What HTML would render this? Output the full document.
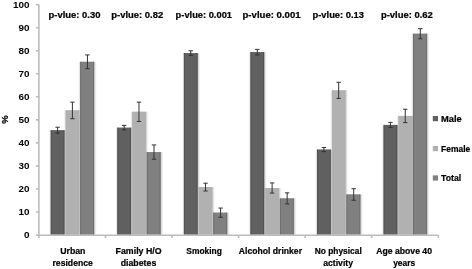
<!DOCTYPE html>
<html><head><meta charset="utf-8"><style>
html,body{margin:0;padding:0;background:#fff;width:472px;height:269px;overflow:hidden}
svg{display:block;filter:grayscale(1)}

</style></head><body>
<svg width="472" height="269" viewBox="0 0 472 269">
<defs><filter id="sh" x="-20%" y="-5%" width="150%" height="110%"><feGaussianBlur in="SourceAlpha" stdDeviation="1.0 0.4" result="g"/><feComponentTransfer in="g" result="g2"><feFuncA type="linear" slope="0.3"/></feComponentTransfer><feGaussianBlur in="SourceAlpha" stdDeviation="0.8 0.4" result="s"/><feOffset in="s" dx="1.3" dy="0.3" result="s1"/><feComponentTransfer in="s1" result="s2"><feFuncA type="linear" slope="0.18"/></feComponentTransfer><feMerge><feMergeNode in="g2"/><feMergeNode in="s2"/><feMergeNode in="SourceGraphic"/></feMerge></filter></defs>
<rect width="472" height="269" fill="#fff"/>
<g filter="url(#sh)"><rect x="50.80" y="130.21" width="13.60" height="104.39" fill="#606060"/><rect x="65.70" y="110.41" width="13.40" height="124.19" fill="#b1b1b1"/><rect x="80.20" y="61.81" width="13.80" height="172.79" fill="#808080"/><rect x="117.37" y="127.68" width="13.60" height="106.92" fill="#606060"/><rect x="132.27" y="111.79" width="13.40" height="122.81" fill="#b1b1b1"/><rect x="146.77" y="152.09" width="13.80" height="82.51" fill="#808080"/><rect x="183.94" y="53.06" width="13.60" height="181.54" fill="#606060"/><rect x="198.84" y="187.10" width="13.40" height="47.50" fill="#b1b1b1"/><rect x="213.34" y="212.66" width="13.80" height="21.94" fill="#808080"/><rect x="250.51" y="52.14" width="13.60" height="182.46" fill="#606060"/><rect x="265.41" y="188.02" width="13.40" height="46.58" fill="#b1b1b1"/><rect x="279.91" y="198.38" width="13.80" height="36.22" fill="#808080"/><rect x="317.08" y="149.56" width="13.60" height="85.04" fill="#606060"/><rect x="331.98" y="90.37" width="13.40" height="144.23" fill="#b1b1b1"/><rect x="346.48" y="194.47" width="13.80" height="40.13" fill="#808080"/><rect x="383.65" y="124.92" width="13.60" height="109.68" fill="#606060"/><rect x="398.55" y="115.93" width="13.40" height="118.67" fill="#b1b1b1"/><rect x="413.05" y="33.72" width="13.80" height="200.88" fill="#808080"/></g>
<g fill="none"><path d="M51.25 130.21V234.60M63.95 130.21V234.60" stroke="#505050" stroke-width="0.9"/><path d="M66.15 110.41V234.60M78.65 110.41V234.60" stroke="#b1b1b1" stroke-width="0.9"/><path d="M80.65 61.81V234.60M93.55 61.81V234.60" stroke="#6c6c6c" stroke-width="0.9"/><path d="M117.82 127.68V234.60M130.52 127.68V234.60" stroke="#505050" stroke-width="0.9"/><path d="M132.72 111.79V234.60M145.22 111.79V234.60" stroke="#b1b1b1" stroke-width="0.9"/><path d="M147.22 152.09V234.60M160.12 152.09V234.60" stroke="#6c6c6c" stroke-width="0.9"/><path d="M184.39 53.06V234.60M197.09 53.06V234.60" stroke="#505050" stroke-width="0.9"/><path d="M199.29 187.10V234.60M211.79 187.10V234.60" stroke="#b1b1b1" stroke-width="0.9"/><path d="M213.79 212.66V234.60M226.69 212.66V234.60" stroke="#6c6c6c" stroke-width="0.9"/><path d="M250.96 52.14V234.60M263.66 52.14V234.60" stroke="#505050" stroke-width="0.9"/><path d="M265.86 188.02V234.60M278.36 188.02V234.60" stroke="#b1b1b1" stroke-width="0.9"/><path d="M280.36 198.38V234.60M293.26 198.38V234.60" stroke="#6c6c6c" stroke-width="0.9"/><path d="M317.53 149.56V234.60M330.23 149.56V234.60" stroke="#505050" stroke-width="0.9"/><path d="M332.43 90.37V234.60M344.93 90.37V234.60" stroke="#b1b1b1" stroke-width="0.9"/><path d="M346.93 194.47V234.60M359.83 194.47V234.60" stroke="#6c6c6c" stroke-width="0.9"/><path d="M384.10 124.92V234.60M396.80 124.92V234.60" stroke="#505050" stroke-width="0.9"/><path d="M399.00 115.93V234.60M411.50 115.93V234.60" stroke="#b1b1b1" stroke-width="0.9"/><path d="M413.50 33.72V234.60M426.40 33.72V234.60" stroke="#6c6c6c" stroke-width="0.9"/></g>
<g stroke="#bcbcbc" stroke-width="1.6" fill="none">
<path d="M38.90 4.6V235.50"/>
<path d="M35.90 235.30H438.32"/>
<path d="M35.90 211.97h3M35.90 188.94h3M35.90 165.91h3M35.90 142.88h3M35.90 119.85h3M35.90 96.82h3M35.90 73.79h3M35.90 50.76h3M35.90 27.73h3M35.90 4.70h3"/>
<path d="M38.90 235.00v3M105.47 235.00v3M172.04 235.00v3M238.61 235.00v3M305.18 235.00v3M371.75 235.00v3M438.32 235.00v3"/>
</g>
<g fill="none"><path d="M57.60 127.22V133.21M55.40 127.22h4.4M55.40 133.21h4.4" stroke="#333" stroke-width="1"/><path d="M72.40 102.12V118.70M70.20 102.12h4.4M70.20 118.70h4.4" stroke="#333" stroke-width="1"/><path d="M87.45 54.91V68.72M85.25 54.91h4.4M85.25 68.72h4.4" stroke="#333" stroke-width="1"/><path d="M124.17 125.38V129.98M121.97 125.38h4.4M121.97 129.98h4.4" stroke="#333" stroke-width="1"/><path d="M138.97 102.12V121.46M136.77 102.12h4.4M136.77 121.46h4.4" stroke="#333" stroke-width="1"/><path d="M154.02 144.95V159.23M151.82 144.95h4.4M151.82 159.23h4.4" stroke="#333" stroke-width="1"/><path d="M190.74 50.76V55.37M188.54 50.76h4.4M188.54 55.37h4.4" stroke="#333" stroke-width="1"/><path d="M205.54 183.18V191.01M203.34 183.18h4.4M203.34 191.01h4.4" stroke="#333" stroke-width="1"/><path d="M220.59 208.05V217.27M218.39 208.05h4.4M218.39 217.27h4.4" stroke="#333" stroke-width="1"/><path d="M257.31 49.38V54.91M255.11 49.38h4.4M255.11 54.91h4.4" stroke="#333" stroke-width="1"/><path d="M272.11 182.95V193.09M269.91 182.95h4.4M269.91 193.09h4.4" stroke="#333" stroke-width="1"/><path d="M287.16 192.86V203.91M284.96 192.86h4.4M284.96 203.91h4.4" stroke="#333" stroke-width="1"/><path d="M323.88 147.49V151.63M321.68 147.49h4.4M321.68 151.63h4.4" stroke="#333" stroke-width="1"/><path d="M338.68 82.31V98.43M336.48 82.31h4.4M336.48 98.43h4.4" stroke="#333" stroke-width="1"/><path d="M353.73 188.71V200.22M351.53 188.71h4.4M351.53 200.22h4.4" stroke="#333" stroke-width="1"/><path d="M390.45 122.38V127.45M388.25 122.38h4.4M388.25 127.45h4.4" stroke="#333" stroke-width="1"/><path d="M405.25 109.26V122.61M403.05 109.26h4.4M403.05 122.61h4.4" stroke="#333" stroke-width="1"/><path d="M420.30 28.65V38.78M418.10 28.65h4.4M418.10 38.78h4.4" stroke="#333" stroke-width="1"/></g>
<g font-family="Liberation Sans" font-weight="bold" font-size="9.9" fill="#000"><text x="29.6" y="237.90" text-anchor="end">0</text><text x="29.6" y="214.87" text-anchor="end">10</text><text x="29.6" y="191.84" text-anchor="end">20</text><text x="29.6" y="168.81" text-anchor="end">30</text><text x="29.6" y="145.78" text-anchor="end">40</text><text x="29.6" y="122.75" text-anchor="end">50</text><text x="29.6" y="99.72" text-anchor="end">60</text><text x="29.6" y="76.69" text-anchor="end">70</text><text x="29.6" y="53.66" text-anchor="end">80</text><text x="29.6" y="30.63" text-anchor="end">90</text><text x="29.6" y="7.60" text-anchor="end">100</text></g>
<text transform="translate(7.8,119.6) rotate(-90)" text-anchor="middle" font-family="Liberation Sans" font-weight="bold" font-size="9.5" fill="#000" stroke="#000" stroke-width="0.22">%</text>
<g font-family="Liberation Sans" font-weight="bold" font-size="9" fill="#000" stroke="#000" stroke-width="0.22"><text x="48.5" y="18.4" textLength="52.0" lengthAdjust="spacingAndGlyphs">p-vlue: 0.30</text><text x="111.3" y="18.4" textLength="51.9" lengthAdjust="spacingAndGlyphs">p-vlue: 0.82</text><text x="175.6" y="18.4" textLength="56.4" lengthAdjust="spacingAndGlyphs">p-vlue: 0.001</text><text x="242.5" y="18.4" textLength="58.1" lengthAdjust="spacingAndGlyphs">p-vlue: 0.001</text><text x="312.5" y="18.4" textLength="51.5" lengthAdjust="spacingAndGlyphs">p-vlue: 0.13</text><text x="380.9" y="18.4" textLength="52.0" lengthAdjust="spacingAndGlyphs">p-vlue: 0.62</text></g>
<g font-family="Liberation Sans" font-weight="bold" font-size="9" fill="#000" stroke="#000" stroke-width="0.22"><text x="60.2" y="254.3" textLength="25.2" lengthAdjust="spacingAndGlyphs">Urban</text><text x="52.5" y="265.6" textLength="40.3" lengthAdjust="spacingAndGlyphs">residence</text><text x="115.6" y="254.3" textLength="46.0" lengthAdjust="spacingAndGlyphs">Family H/O</text><text x="120.7" y="265.6" textLength="35.6" lengthAdjust="spacingAndGlyphs">diabetes</text><text x="186.3" y="254.3" textLength="35.6" lengthAdjust="spacingAndGlyphs">Smoking</text><text x="238.8" y="254.3" textLength="63.2" lengthAdjust="spacingAndGlyphs">Alcohol drinker</text><text x="314.8" y="254.3" textLength="46.9" lengthAdjust="spacingAndGlyphs">No physical</text><text x="323.2" y="265.6" textLength="29.8" lengthAdjust="spacingAndGlyphs">activity</text><text x="376.2" y="254.3" textLength="55.8" lengthAdjust="spacingAndGlyphs">Age above 40</text><text x="393.2" y="265.6" textLength="22.0" lengthAdjust="spacingAndGlyphs">years</text></g>
<rect x="432.8" y="116.0" width="5.2" height="5.2" fill="#606060"/>
<text x="441.0" y="121.5" textLength="20.8" lengthAdjust="spacingAndGlyphs" font-family="Liberation Sans" font-weight="bold" font-size="9.6" fill="#000" stroke="#000" stroke-width="0.22">Male</text>
<rect x="432.8" y="146.0" width="5.2" height="5.2" fill="#b1b1b1"/>
<text x="441.0" y="151.5" textLength="29.3" lengthAdjust="spacingAndGlyphs" font-family="Liberation Sans" font-weight="bold" font-size="9.6" fill="#000" stroke="#000" stroke-width="0.22">Female</text>
<rect x="432.8" y="175.4" width="5.2" height="5.2" fill="#808080"/>
<text x="441.0" y="180.6" textLength="20.2" lengthAdjust="spacingAndGlyphs" font-family="Liberation Sans" font-weight="bold" font-size="9.6" fill="#000" stroke="#000" stroke-width="0.22">Total</text>
</svg>
</body></html>
